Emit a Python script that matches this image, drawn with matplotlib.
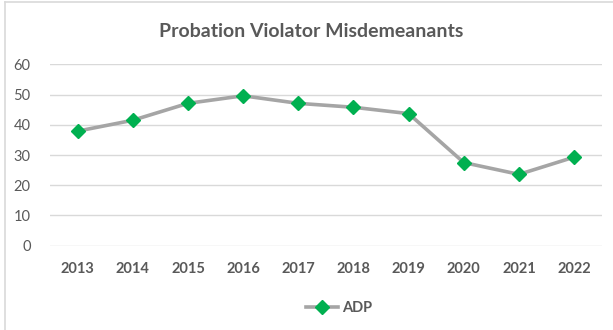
import matplotlib
matplotlib.use('Agg')
from matplotlib import pyplot as plt
from matplotlib.lines import Line2D

years = ['2013', '2014', '2015', '2016', '2017', '2018', '2019', '2020', '2021', '2022']
adp = [37.9, 41.5, 47.1, 49.6, 47.1, 45.8, 43.7, 27.5, 23.6, 29.3]
y_ticks = [0, 10, 20, 30, 40, 50, 60]

plt.rcParams['font.family'] = ['Lato', 'DejaVu Sans']
text_grey = '#595959'

fig = plt.figure(figsize=(6.13, 3.3), dpi=100)
ax = fig.add_axes([0.0816, 0.2555, 0.9, 0.5495])

x = range(len(years))
ax.plot(x, adp, color='#A5A5A5', lw=2.6, marker='D', markersize=7.5,
        markerfacecolor='#00B050', markeredgecolor='#00B050', label='ADP', zorder=3)

ax.set_xlim(-0.5, len(years) - 0.5)
ax.set_ylim(0, 60)
ax.set_yticks(y_ticks)
ax.set_xticks(list(x))
ax.set_xticklabels(years, fontweight='bold', fontsize=10.5, color=text_grey)
ax.tick_params(axis='y', labelsize=10.5, labelcolor=text_grey, length=0, pad=14)
ax.tick_params(axis='x', length=0, pad=12)
ax.grid(axis='y', color='#D9D9D9', lw=1)
ax.set_axisbelow(True)
for s in ax.spines.values():
    s.set_visible(False)

fig.text(0.507, 0.905, 'Probation Violator Misdemeanants', ha='center', va='center',
         fontsize=14, fontweight='bold', color=text_grey)

handle = Line2D([], [], color='#A5A5A5', lw=2.6, marker='D', markersize=7.5,
                markerfacecolor='#00B050', markeredgecolor='#00B050')
fig.legend([handle], ['ADP'], loc='center', bbox_to_anchor=(0.553, 0.067), frameon=False,
           prop={'weight': 'bold', 'size': 10.5}, labelcolor=text_grey,
           handlelength=2.2, handletextpad=0.3)

# chart frame, top and left edges only
fig.add_artist(Line2D([0.0082, 0.0082], [0, 0.994], color='#D9D9D9', lw=1.2))
fig.add_artist(Line2D([0.0082, 1], [0.994, 0.994], color='#D9D9D9', lw=1.2))

fig.savefig('out.png', dpi=100)
